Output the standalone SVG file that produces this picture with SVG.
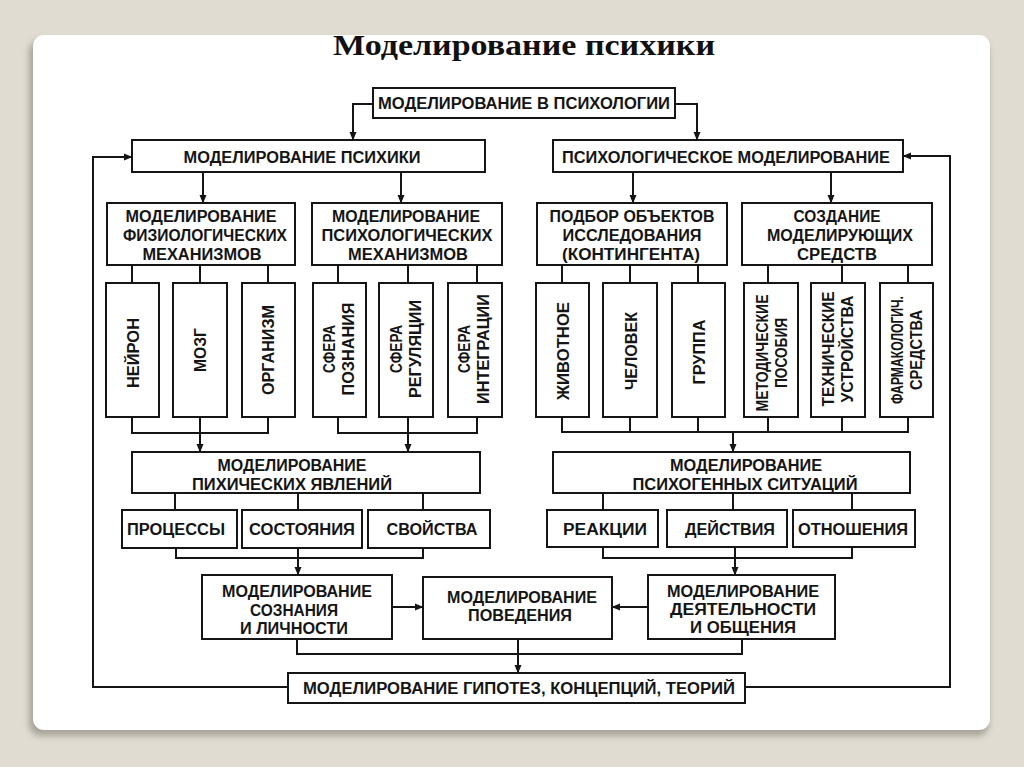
<svg xmlns="http://www.w3.org/2000/svg" width="1024" height="767" viewBox="0 0 1024 767">
<defs>
<style>
.b{fill:#fff;stroke:#151515;stroke-width:2}
.t{font-family:"Liberation Sans",Arial,sans-serif;font-size:16px;font-weight:bold;fill:#151515;text-anchor:middle}
.c{fill:none;stroke:#151515;stroke-width:2}
.a{marker-end:url(#ah)}
</style>
<marker id="ah" markerWidth="9" markerHeight="8" refX="8" refY="4" orient="auto" markerUnits="userSpaceOnUse">
<path d="M0,0.5 L8.5,4 L0,7.5 z" fill="#151515"/>
</marker>
<filter id="sh" x="-5%" y="-5%" width="110%" height="110%"><feGaussianBlur stdDeviation="3"/></filter>
</defs>
<rect x="0" y="0" width="1024" height="767" fill="#e0dcd2"/>
<rect x="29" y="40" width="960" height="696" rx="12" fill="#a8a499" filter="url(#sh)"/>
<rect x="33" y="35" width="957" height="695" rx="11" fill="#fff"/>
<text x="524" y="55" font-family="'Liberation Serif','Times New Roman',serif" font-size="30" font-weight="bold" text-anchor="middle" fill="#111" textLength="382" lengthAdjust="spacingAndGlyphs">Моделирование психики</text>

<g id="connectors">
<path class="c a" d="M373,104 H353 V140"/>
<path class="c a" d="M675,104 H697 V140"/>
<path class="c a" d="M288,687 H93 V157 H132"/>
<path class="c a" d="M745,687 H950 V156 H903"/>
<path class="c a" d="M203,172 V203"/>
<path class="c a" d="M401,172 V203"/>
<path class="c a" d="M633,172 V203"/>
<path class="c a" d="M831,172 V203"/>
<path class="c" d="M132,265 V283 M200,265 V283 M268,265 V283 M338,265 V283 M408,265 V283 M477,265 V283 M562,265 V283 M630,265 V283 M698,265 V283 M768,265 V283 M842,265 V283 M908,265 V283"/>
<path class="c" d="M132,417 V433 H268 V417 M338,417 V433 H477 V417 M562,417 V432 H908 V417 M630,417 V432 M698,417 V432 M768,417 V432 M842,417 V432"/>
<path class="c a" d="M200,417 V452"/>
<path class="c a" d="M408,417 V452"/>
<path class="c a" d="M733,432 V452"/>
<path class="c" d="M175,493 V510 M298,493 V510 M423,493 V510 M603,493 V510 M733,493 V510 M852,493 V510"/>
<path class="c" d="M176,548 V558 H423 V548 M603,547 V558 H852 V547"/>
<path class="c a" d="M298,548 V575"/>
<path class="c a" d="M735,547 V575"/>
<path class="c a" d="M392,607 H423"/>
<path class="c a" d="M648,607 H612"/>
<path class="c" d="M297,639 V654 H742 V639"/>
<path class="c a" d="M518,639 V673"/>
</g>

<g id="n-top"><rect class="b" x="373" y="88" width="302" height="30"/><text class="t" x="524" y="109" textLength="292" lengthAdjust="spacingAndGlyphs">МОДЕЛИРОВАНИЕ В ПСИХОЛОГИИ</text></g>
<g id="n-mp"><rect class="b" x="132" y="140" width="353" height="32"/><text class="t" x="302" y="163" textLength="237" lengthAdjust="spacingAndGlyphs">МОДЕЛИРОВАНИЕ ПСИХИКИ</text></g>
<g id="n-pm"><rect class="b" x="553" y="140" width="350" height="32"/><text class="t" x="726" y="163" textLength="328" lengthAdjust="spacingAndGlyphs">ПСИХОЛОГИЧЕСКОЕ МОДЕЛИРОВАНИЕ</text></g>

<g id="n-fiz"><rect class="b" x="107" y="203" width="188" height="62"/>
<text class="t" x="201" y="222" textLength="151" lengthAdjust="spacingAndGlyphs">МОДЕЛИРОВАНИЕ</text>
<text class="t" x="205" y="241" textLength="164" lengthAdjust="spacingAndGlyphs">ФИЗИОЛОГИЧЕСКИХ</text>
<text class="t" x="202" y="260" textLength="119" lengthAdjust="spacingAndGlyphs">МЕХАНИЗМОВ</text></g>
<g id="n-psi"><rect class="b" x="312" y="203" width="190" height="62"/>
<text class="t" x="406" y="222" textLength="148" lengthAdjust="spacingAndGlyphs">МОДЕЛИРОВАНИЕ</text>
<text class="t" x="407" y="241" textLength="171" lengthAdjust="spacingAndGlyphs">ПСИХОЛОГИЧЕСКИХ</text>
<text class="t" x="408" y="260" textLength="120" lengthAdjust="spacingAndGlyphs">МЕХАНИЗМОВ</text></g>
<g id="n-podb"><rect class="b" x="537" y="203" width="190" height="62"/>
<text class="t" x="632" y="222" textLength="165" lengthAdjust="spacingAndGlyphs">ПОДБОР ОБЪЕКТОВ</text>
<text class="t" x="632" y="241" textLength="139" lengthAdjust="spacingAndGlyphs">ИССЛЕДОВАНИЯ</text>
<text class="t" x="631" y="260" textLength="138" lengthAdjust="spacingAndGlyphs">(КОНТИНГЕНТА)</text></g>
<g id="n-sozd"><rect class="b" x="742" y="203" width="190" height="62"/>
<text class="t" x="837" y="222" textLength="87" lengthAdjust="spacingAndGlyphs">СОЗДАНИЕ</text>
<text class="t" x="840" y="241" textLength="146" lengthAdjust="spacingAndGlyphs">МОДЕЛИРУЮЩИХ</text>
<text class="t" x="837" y="260" textLength="80" lengthAdjust="spacingAndGlyphs">СРЕДСТВ</text></g>

<g id="n-neiron"><rect class="b" x="106" y="283" width="53" height="134"/><text class="t" transform="translate(133,353) rotate(-90)" x="0" y="6" textLength="70" lengthAdjust="spacingAndGlyphs">НЕЙРОН</text></g>
<g id="n-mozg"><rect class="b" x="173" y="283" width="54" height="134"/><text class="t" transform="translate(200,350) rotate(-90)" x="0" y="6" textLength="44" lengthAdjust="spacingAndGlyphs">МОЗГ</text></g>
<g id="n-org"><rect class="b" x="242" y="283" width="53" height="134"/><text class="t" transform="translate(268,350) rotate(-90)" x="0" y="6" textLength="90" lengthAdjust="spacingAndGlyphs">ОРГАНИЗМ</text></g>
<g id="n-sfp"><rect class="b" x="313" y="283" width="53" height="134"/><g transform="translate(339,349) rotate(-90)"><text class="t" x="0" y="-4" textLength="48" lengthAdjust="spacingAndGlyphs">СФЕРА</text><text class="t" x="0" y="15" textLength="93" lengthAdjust="spacingAndGlyphs">ПОЗНАНИЯ</text></g></g>
<g id="n-sfr"><rect class="b" x="379" y="283" width="54" height="134"/><g transform="translate(406,349) rotate(-90)"><text class="t" x="0" y="-4" textLength="48" lengthAdjust="spacingAndGlyphs">СФЕРА</text><text class="t" x="0" y="15" textLength="98" lengthAdjust="spacingAndGlyphs">РЕГУЛЯЦИИ</text></g></g>
<g id="n-sfi"><rect class="b" x="448" y="283" width="54" height="134"/><g transform="translate(474,349) rotate(-90)"><text class="t" x="0" y="-4" textLength="48" lengthAdjust="spacingAndGlyphs">СФЕРА</text><text class="t" x="0" y="15" textLength="110" lengthAdjust="spacingAndGlyphs">ИНТЕГРАЦИИ</text></g></g>

<g id="n-ziv"><rect class="b" x="536" y="283" width="53" height="134"/><text class="t" transform="translate(563,351) rotate(-90)" x="0" y="6" textLength="98" lengthAdjust="spacingAndGlyphs">ЖИВОТНОЕ</text></g>
<g id="n-chel"><rect class="b" x="603" y="283" width="54" height="134"/><text class="t" transform="translate(631,351) rotate(-90)" x="0" y="6" textLength="78" lengthAdjust="spacingAndGlyphs">ЧЕЛОВЕК</text></g>
<g id="n-grup"><rect class="b" x="672" y="283" width="53" height="134"/><text class="t" transform="translate(699,352) rotate(-90)" x="0" y="6" textLength="65" lengthAdjust="spacingAndGlyphs">ГРУППА</text></g>
<g id="n-met"><rect class="b" x="744" y="283" width="54" height="134"/><g transform="translate(772,353) rotate(-90)"><text class="t" x="0" y="-4" textLength="117" lengthAdjust="spacingAndGlyphs">МЕТОДИЧЕСКИЕ</text><text class="t" x="0" y="15" textLength="70" lengthAdjust="spacingAndGlyphs">ПОСОБИЯ</text></g></g>
<g id="n-teh"><rect class="b" x="811" y="283" width="54" height="134"/><g transform="translate(838,349) rotate(-90)"><text class="t" x="0" y="-4" textLength="115" lengthAdjust="spacingAndGlyphs">ТЕХНИЧЕСКИЕ</text><text class="t" x="0" y="15" textLength="107" lengthAdjust="spacingAndGlyphs">УСТРОЙСТВА</text></g></g>
<g id="n-farm"><rect class="b" x="880" y="283" width="53" height="134"/><g transform="translate(907,350) rotate(-90)"><text class="t" x="0" y="-4" textLength="108" lengthAdjust="spacingAndGlyphs">ФАРМАКОЛОГИЧ.</text><text class="t" x="0" y="15" textLength="80" lengthAdjust="spacingAndGlyphs">СРЕДСТВА</text></g></g>

<g id="n-pih"><rect class="b" x="132" y="452" width="348" height="41"/>
<text class="t" x="292" y="471" textLength="149" lengthAdjust="spacingAndGlyphs">МОДЕЛИРОВАНИЕ</text>
<text class="t" x="292" y="490" textLength="200" lengthAdjust="spacingAndGlyphs">ПИХИЧЕСКИХ ЯВЛЕНИЙ</text></g>
<g id="n-sit"><rect class="b" x="553" y="452" width="357" height="41"/>
<text class="t" x="746" y="471" textLength="152" lengthAdjust="spacingAndGlyphs">МОДЕЛИРОВАНИЕ</text>
<text class="t" x="745" y="490" textLength="225" lengthAdjust="spacingAndGlyphs">ПСИХОГЕННЫХ СИТУАЦИЙ</text></g>

<g id="n-proc"><rect class="b" x="122" y="510" width="115" height="38"/><text class="t" x="176" y="535" textLength="98" lengthAdjust="spacingAndGlyphs">ПРОЦЕССЫ</text></g>
<g id="n-sost"><rect class="b" x="242" y="510" width="120" height="38"/><text class="t" x="302" y="535" textLength="106" lengthAdjust="spacingAndGlyphs">СОСТОЯНИЯ</text></g>
<g id="n-svoi"><rect class="b" x="368" y="510" width="122" height="38"/><text class="t" x="432" y="535" textLength="91" lengthAdjust="spacingAndGlyphs">СВОЙСТВА</text></g>
<g id="n-reak"><rect class="b" x="547" y="510" width="111" height="37"/><text class="t" x="605" y="535" textLength="84" lengthAdjust="spacingAndGlyphs">РЕАКЦИИ</text></g>
<g id="n-deis"><rect class="b" x="667" y="510" width="120" height="37"/><text class="t" x="730" y="535" textLength="90" lengthAdjust="spacingAndGlyphs">ДЕЙСТВИЯ</text></g>
<g id="n-otn"><rect class="b" x="793" y="510" width="122" height="37"/><text class="t" x="853" y="535" textLength="110" lengthAdjust="spacingAndGlyphs">ОТНОШЕНИЯ</text></g>

<g id="n-soz"><rect class="b" x="202" y="575" width="190" height="64"/>
<text class="t" x="297" y="597" textLength="150" lengthAdjust="spacingAndGlyphs">МОДЕЛИРОВАНИЕ</text>
<text class="t" x="294" y="616" textLength="88" lengthAdjust="spacingAndGlyphs">СОЗНАНИЯ</text>
<text class="t" x="294" y="634" textLength="108" lengthAdjust="spacingAndGlyphs">И ЛИЧНОСТИ</text></g>
<g id="n-pov"><rect class="b" x="423" y="577" width="189" height="62"/>
<text class="t" x="522" y="603" textLength="150" lengthAdjust="spacingAndGlyphs">МОДЕЛИРОВАНИЕ</text>
<text class="t" x="520" y="621" textLength="104" lengthAdjust="spacingAndGlyphs">ПОВЕДЕНИЯ</text></g>
<g id="n-deyat"><rect class="b" x="648" y="575" width="187" height="64"/>
<text class="t" x="743" y="597" textLength="152" lengthAdjust="spacingAndGlyphs">МОДЕЛИРОВАНИЕ</text>
<text class="t" x="743" y="615" textLength="146" lengthAdjust="spacingAndGlyphs">ДЕЯТЕЛЬНОСТИ</text>
<text class="t" x="743" y="633" textLength="106" lengthAdjust="spacingAndGlyphs">И ОБЩЕНИЯ</text></g>
<g id="n-gip"><rect class="b" x="288" y="673" width="457" height="30"/><text class="t" x="519" y="694" textLength="432" lengthAdjust="spacingAndGlyphs">МОДЕЛИРОВАНИЕ ГИПОТЕЗ, КОНЦЕПЦИЙ, ТЕОРИЙ</text></g>
</svg>
